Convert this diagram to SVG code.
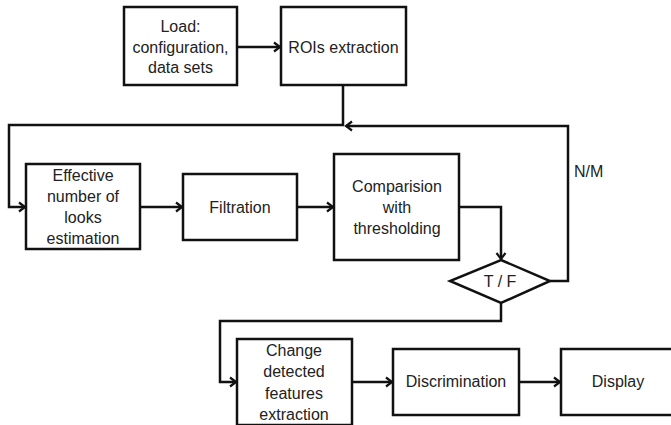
<svg xmlns="http://www.w3.org/2000/svg" width="671" height="425" viewBox="0 0 671 425">
<defs>
<style>
.box{fill:#fff;stroke:#111;stroke-width:2.5}
.ln{fill:none;stroke:#111;stroke-width:2.5}
.t{font-family:"Liberation Sans",Arial,sans-serif;font-size:16px;fill:#222;text-anchor:middle}
</style>
<marker id="ah" markerWidth="12" markerHeight="12" refX="9" refY="6" orient="auto" markerUnits="userSpaceOnUse">
<path d="M3,1.5 L9,6 L3,10.5" fill="none" stroke="#111" stroke-width="2.2"/>
</marker>
</defs>
<rect width="671" height="425" fill="#fff"/>
<g id="connectors">
<path class="ln" d="M237,47 H280" marker-end="url(#ah)"/>
<path class="ln" d="M343,85 V125 H9 V207 H25" marker-end="url(#ah)"/>
<path class="ln" d="M140,207 H182" marker-end="url(#ah)"/>
<path class="ln" d="M297,207 H333" marker-end="url(#ah)"/>
<path class="ln" d="M459,207 H501 V259" marker-end="url(#ah)"/>
<path class="ln" d="M550,281 H568 V126 H346" marker-end="url(#ah)"/>
<path class="ln" d="M501,303 V321 H220 V382 H236" marker-end="url(#ah)"/>
<path class="ln" d="M352,382 H392" marker-end="url(#ah)"/>
<path class="ln" d="M519,382 H560" marker-end="url(#ah)"/>
<text x="574" y="177" class="t" style="text-anchor:start">N/M</text>
</g>
<g id="load">
<rect class="box" x="124" y="7" width="113" height="78"/>
<text class="t" x="180.5" y="32">Load:</text>
<text class="t" x="180.5" y="53">configuration,</text>
<text class="t" x="180.5" y="73">data sets</text>
</g>
<g id="rois">
<rect class="box" x="281" y="7" width="125" height="78"/>
<text class="t" x="343.5" y="53">ROIs extraction</text>
</g>
<g id="enl">
<rect class="box" x="26" y="164" width="114" height="85"/>
<text class="t" x="83" y="181">Effective</text>
<text class="t" x="83" y="202">number of</text>
<text class="t" x="83" y="223">looks</text>
<text class="t" x="83" y="244">estimation</text>
</g>
<g id="filtration">
<rect class="box" x="183" y="174" width="114" height="66"/>
<text class="t" x="240" y="213">Filtration</text>
</g>
<g id="comparision">
<rect class="box" x="334" y="154" width="125" height="106"/>
<text class="t" x="397" y="192">Comparision</text>
<text class="t" x="397" y="213">with</text>
<text class="t" x="397" y="234">thresholding</text>
</g>
<g id="decision">
<polygon class="box" points="501,260 550,281 501,303 450,281"/>
<text class="t" x="500" y="287">T / F</text>
</g>
<g id="change">
<rect class="box" x="237" y="339" width="115" height="86"/>
<text class="t" x="294" y="356">Change</text>
<text class="t" x="294" y="377">detected</text>
<text class="t" x="294" y="399">features</text>
<text class="t" x="294" y="420">extraction</text>
</g>
<g id="discrimination">
<rect class="box" x="393" y="349" width="126" height="66"/>
<text class="t" x="456" y="387">Discrimination</text>
</g>
<g id="display">
<rect class="box" x="561" y="349" width="116" height="66"/>
<text class="t" x="618" y="387">Display</text>
</g>
</svg>
